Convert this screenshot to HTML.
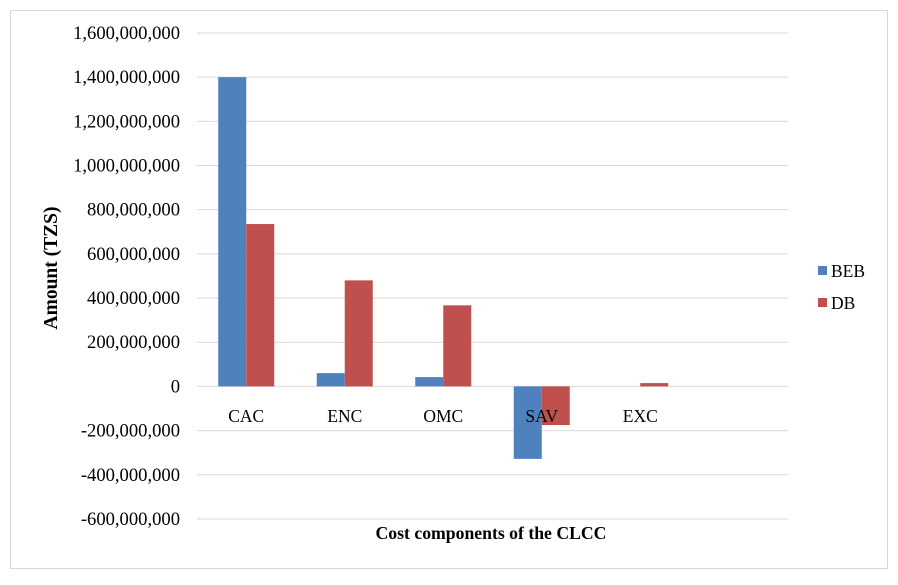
<!DOCTYPE html>
<html><head><meta charset="utf-8"><style>
body{margin:0;background:#fff;}
svg text{font-family:"Liberation Serif",serif;}
</style></head><body>
<svg width="898" height="580">
<rect x="10.5" y="10.5" width="877" height="558" fill="#fff" stroke="#d9d9d9"/>
<g id="grid"></g><g id="bars"></g><g id="labels"></g>
<text transform="translate(57,268) rotate(-90)" text-anchor="middle" font-size="19.5" font-weight="bold">Amount (TZS)</text>
<text x="491" y="539" text-anchor="middle" font-size="17.7" font-weight="bold">Cost components of the CLCC</text>
<rect x="818" y="266" width="9" height="9" fill="#4f81bd"/>
<text x="831" y="277" font-size="17.5">BEB</text>
<rect x="818" y="298" width="9" height="9" fill="#c0504d"/>
<text x="831" y="309" font-size="17.5">DB</text>
</svg>
<script>
const categories=["CAC","ENC","OMC","SAV","EXC"];
const beb=[1400000000,60000000,42000000,-328000000,0];
const db=[735000000,480000000,367000000,-175000000,15000000];
const ticks=[1600000000,1400000000,1200000000,1000000000,800000000,600000000,400000000,200000000,0,-200000000,-400000000,-600000000];
const NS="http://www.w3.org/2000/svg";
const x0=197,x1=788,slot=98.5,y0=386.4,pxPer=44.18/200000000;
const y=v=>y0-v*pxPer;
const g=document.getElementById('grid'),b=document.getElementById('bars'),l=document.getElementById('labels');
function mk(tag,at,p){const e=document.createElementNS(NS,tag);for(const k in at)e.setAttribute(k,at[k]);p.appendChild(e);return e;}
ticks.forEach(t=>{
 const ln=mk('line',{x1:x0,x2:x1,y1:y(t),y2:y(t),stroke:'#d9d9d9'},g);
 
 
 const tx=mk('text',{x:180,y:y(t)+6,'text-anchor':'end','font-size':18.6},l);
 tx.textContent=t.toLocaleString('en-US');
 
 
});
categories.forEach((c,i)=>{
 const cx=x0+slot*(i+0.5);
 [[beb[i],'#4f81bd',cx-28,'bar-beb-'],[db[i],'#c0504d',cx,'bar-db-']].forEach(([v,col,bx,nm])=>{
  const r=mk('rect',{x:bx,y:Math.min(y(v),y0),width:28,height:Math.abs(y(v)-y0),fill:col},b);
  
  
 });
 const tx=mk('text',{x:cx,y:422,'text-anchor':'middle','font-size':17.5},l);
 tx.textContent=c;
 
 
});
</script>
</body></html>
